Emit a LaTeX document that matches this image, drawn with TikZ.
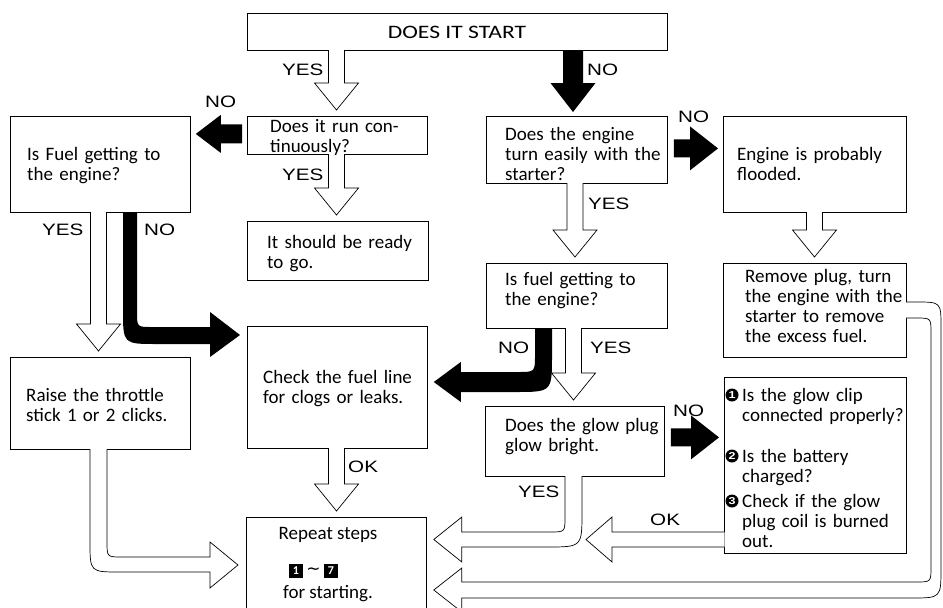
\documentclass[tikz,border=0pt]{standalone}
\usepackage{fontspec}
\setmainfont{Carlito}
\newfontfamily\capsfont[FakeStretch=1.24]{Carlito}
\newfontfamily\lblfont[FakeStretch=1.25]{Liberation Sans}
\newfontfamily\symfont{DejaVu Sans}
\usetikzlibrary{calc}

\tikzset{
  box/.style={draw, line width=0.8pt, anchor=north west, inner sep=0pt},
  txt/.style={anchor=base west, inner sep=0pt, align=left, text width=#1,
              font=\fontsize{19}{20}\selectfont},
  txt/.default=200pt,
  ctxt/.style={anchor=base, inner sep=0pt, font=\fontsize{19}{20}\selectfont},
  lbl/.style={anchor=base west, inner sep=0pt, font=\lblfont\fontsize{16.5}{18}\selectfont},
  hollow/.style={draw, fill=white, line width=0.7pt, line join=miter},
  sq/.style={fill=black, text=white, minimum size=14pt, inner sep=0pt,
             font=\bfseries\fontsize{12}{12}\selectfont},
  num/.style={circle, fill=black, text=white, minimum size=13pt, inner sep=0pt,
              font=\lblfont\bfseries\fontsize{10}{10}\selectfont},
}

% hollow block arrow pointing down: #1 source, #2 target, #3 axis x
\newcommand\hollowdown[3]{%
  \path[hollow] let \p1=(#1.south), \p2=(#2.north) in
    (#3pt-8pt,\y1+0.6pt) -- (#3pt-8pt,\y2+33pt) -- (#3pt-22pt,\y2+33pt)
    -- (#3pt,\y2+6pt) -- (#3pt+22pt,\y2+33pt) -- (#3pt+8pt,\y2+33pt)
    -- (#3pt+8pt,\y1+0.6pt);}

% solid block arrow pointing down: #1 source, #2 target, #3 axis x
\newcommand\blackdown[3]{%
  \fill let \p1=(#1.south), \p2=(#2.north) in
    (#3pt-10pt,\y1) -- (#3pt-10pt,\y2+33pt) -- (#3pt-22.5pt,\y2+33pt)
    -- (#3pt,\y2+4pt) -- (#3pt+22.5pt,\y2+33pt) -- (#3pt+10pt,\y2+33pt)
    -- (#3pt+10pt,\y1) -- cycle;}

% solid block arrow pointing right: #1 source, #2 target, #3 shift of the axis
\newcommand\blackright[3]{%
  \fill let \p1=(#1.east), \p2=(#2.west) in
    (\x1+6pt,\y1+#3+9pt) -- (\x2-33pt,\y1+#3+9pt) -- (\x2-33pt,\y1+#3+22pt)
    -- (\x2-5pt,\y1+#3) -- (\x2-33pt,\y1+#3-22pt) -- (\x2-33pt,\y1+#3-9pt)
    -- (\x1+6pt,\y1+#3-9pt) -- cycle;}

\begin{document}
\begin{tikzpicture}[x=1pt,y=-1pt]
\useasboundingbox (0,0) rectangle (943,608);
\clip (0,0) rectangle (943,608);
\fill[white] (0,0) rectangle (943,608);

% ---------- boxes ----------
\node[box, minimum width=420pt, minimum height=37pt] (start)   at (247,13)  {};
\node[box, minimum width=180pt, minimum height=38pt] (run)     at (247,116) {};
\node[box, minimum width=180pt, minimum height=96pt] (fuelL)   at (10,116)  {};
\node[box, line width=1.3pt, minimum width=181pt, minimum height=59pt] (ready) at (247,221) {};
\node[box, minimum width=180pt, minimum height=122pt] (check)  at (247,326) {};
\node[box, minimum width=180pt, minimum height=92pt] (raise)   at (10,357)  {};
\node[box, minimum width=180pt, minimum height=100pt] (repeat) at (246,517) {};
\node[box, minimum width=181pt, minimum height=67pt] (engine)  at (486,116) {};
\node[box, minimum width=183pt, minimum height=96pt] (flooded) at (723,116) {};
\node[box, minimum width=181pt, minimum height=65pt] (fuelR)   at (486,263) {};
\node[box, minimum width=183pt, minimum height=94pt] (remove)  at (723,263) {};
\node[box, minimum width=179pt, minimum height=70pt] (glow)    at (485,406) {};
\node[box, minimum width=182pt, minimum height=176pt] (checks) at (724,377) {};
\coordinate (okTip) at (586,539.5);

% ---------- hollow arrows ----------
\hollowdown{start}{run}{336.5}
\hollowdown{run}{ready}{336.5}
\hollowdown{fuelL}{raise}{98.5}
\hollowdown{check}{repeat}{336.5}
\hollowdown{engine}{fuelR}{575}
\hollowdown{flooded}{remove}{814.5}
\hollowdown{fuelR}{glow}{573.5}

% throttle box round to the repeat box
\path[hollow] let \p1=(raise.south), \p2=(repeat.west) in
  (107pt,\y1+0.6pt) -- (107pt,-542pt) .. controls (107pt,-557pt) .. (122pt,-557pt)
  -- (\x2-36pt,-557pt) -- (\x2-36pt,-542pt) -- (\x2-8pt,-565pt) -- (\x2-36pt,-588pt)
  -- (\x2-36pt,-572pt) -- (120pt,-572pt) .. controls (90pt,-572pt) .. (90pt,-542pt)
  -- (90pt,\y1+0.6pt);

% glow plug YES round to the repeat box
\path[hollow] let \p1=(glow.south), \p2=(repeat.east) in
  (565pt,\y1+0.6pt) -- (565pt,-517pt) .. controls (565pt,-532pt) .. (550pt,-532pt)
  -- (\x2+35pt,-532pt) -- (\x2+35pt,-517pt) -- (\x2+7pt,-539.5pt) -- (\x2+35pt,-562pt)
  -- (\x2+35pt,-547pt) -- (547pt,-547pt) .. controls (582pt,-547pt) .. (582pt,-512pt)
  -- (582pt,\y1+0.6pt);

% OK from the glow checks
\path[hollow] let \p1=(checks.west), \p2=(okTip) in
  (\x1+0.6pt,-532pt) -- (\x2+26pt,-532pt) -- (\x2+26pt,-517pt) -- (\x2,\y2)
  -- (\x2+26pt,-562pt) -- (\x2+26pt,-547pt) -- (\x1+0.6pt,-547pt);

% long loop from the flooded branch back to the repeat box
\path[hollow] let \p1=(remove.east), \p2=(repeat.east) in
  (\x1-0.6pt,-302pt) -- (916pt,-302pt) .. controls (941pt,-302pt) .. (941pt,-327pt)
  -- (941pt,-568pt) .. controls (941pt,-598pt) .. (911pt,-598pt)
  -- (\x2+35pt,-598pt) -- (\x2+35pt,-612pt) -- (\x2+7pt,-590pt) -- (\x2+35pt,-568pt)
  -- (\x2+35pt,-582pt) -- (916pt,-582pt) .. controls (931pt,-582pt) .. (931pt,-567pt)
  -- (931pt,-333pt) .. controls (931pt,-318pt) .. (916pt,-318pt) -- (\x1-0.6pt,-318pt);

% ---------- solid arrows ----------
\blackdown{start}{engine}{573}
\blackright{engine}{flooded}{1.5pt}
\blackright{glow}{checks}{4pt}

\fill let \p1=(run.west), \p2=(fuelL.east) in
  (\x1-5pt,\y1+11pt) -- (\x2+30pt,\y1+11pt) -- (\x2+30pt,\y1+20.5pt)
  -- (\x2+5pt,\y1+1.5pt) -- (\x2+30pt,\y1-17.5pt) -- (\x2+30pt,\y1-8pt)
  -- (\x1-5pt,\y1-8pt) -- cycle;

\fill let \p1=(fuelL.south), \p2=(check.west) in
  (123pt,\y1+0.4pt) -- (123pt,-310pt) .. controls (123pt,-344pt) .. (157pt,-344pt)
  -- (\x2-37pt,-344pt) -- (\x2-37pt,-357pt) -- (\x2-7pt,-335pt) -- (\x2-37pt,-312pt)
  -- (\x2-37pt,-327pt) -- (152pt,-327pt) .. controls (137pt,-327pt) .. (137pt,-312pt)
  -- (137pt,\y1+0.4pt) -- cycle;

\fill let \p1=(fuelR.south), \p2=(check.east) in
  (535pt,\y1+0.4pt) -- (535pt,-355pt) .. controls (535pt,-372pt) .. (518pt,-372pt)
  -- (\x2+33pt,-372pt) -- (\x2+33pt,-362pt) -- (\x2+6pt,-382pt) -- (\x2+33pt,-402pt)
  -- (\x2+33pt,-392pt) -- (515pt,-392pt) .. controls (552pt,-392pt) .. (552pt,-355pt)
  -- (552pt,\y1+0.4pt) -- cycle;

% ---------- box texts ----------
\node[anchor=base, inner sep=0pt, font=\capsfont\fontsize{19}{20}\selectfont] (startT) at (457,38) {DOES IT START};
\node[txt] (runT)     at (270,132) {Does it run con-\\tinuously?};
\node[txt] (fuelLT)   at (27,160)  {Is Fuel getting to\\the engine?};
\node[txt] (readyT)   at (267,248) {It should be ready\\to go.};
\node[txt] (checkT)   at (263,383) {Check the fuel line\\for clogs or leaks.};
\node[txt] (raiseT)   at (26,401)  {Raise the throttle\\stick 1 or 2 clicks.};
\node[txt] (engineT)  at (505,140) {Does the engine\\turn easily with the\\starter?};
\node[txt] (floodedT) at (737,160) {Engine is probably\\flooded.};
\node[txt] (fuelRT)   at (505,285) {Is fuel getting to\\the engine?};
\node[txt] (removeT)  at (745,282) {Remove plug, turn\\the engine with the\\starter to remove\\the excess fuel.};
\node[txt] (glowT)    at (505,431) {Does the glow plug\\glow bright.};

\node[num] (k1) at (732,395) {1};
\node[num] (k2) at (732,456) {2};
\node[num] (k3) at (732,501) {3};
\node[txt] (k1T) at (742,401) {Is the glow clip\\connected properly?};
\node[txt] (k2T) at (742,462) {Is the battery\\charged?};
\node[txt] (k3T) at (742,507) {Check if the glow\\plug coil is burned\\out.};

\node[ctxt] (repA) at (328,539) {Repeat steps};
\node[sq] (s1) at (296,570.5) {1};
\node[inner sep=0pt, font=\symfont\fontsize{17}{17}\selectfont] (tl) at (313.5,571) {\textasciitilde};
\node[sq] (s7) at (331,570.5) {7};
\node[ctxt] (repB) at (328,598) {for starting.};

% ---------- branch labels ----------
\node[lbl] (y1) at (282,75)  {YES};
\node[lbl] (n1) at (587,75)  {NO};
\node[lbl] (n2) at (205,107) {NO};
\node[lbl] (y2) at (282,180) {YES};
\node[lbl] (n3) at (678,122) {NO};
\node[lbl] (y3) at (42,235)  {YES};
\node[lbl] (n4) at (144,235) {NO};
\node[lbl] (y4) at (588,209) {YES};
\node[lbl] (n5) at (498,353) {NO};
\node[lbl] (y5) at (590,353) {YES};
\node[lbl] (n6) at (673,416) {NO};
\node[lbl] (y6) at (518,497) {YES};
\node[lbl] (o1) at (348,472) {OK};
\node[lbl] (o2) at (650,525) {OK};
\end{tikzpicture}
\end{document}
